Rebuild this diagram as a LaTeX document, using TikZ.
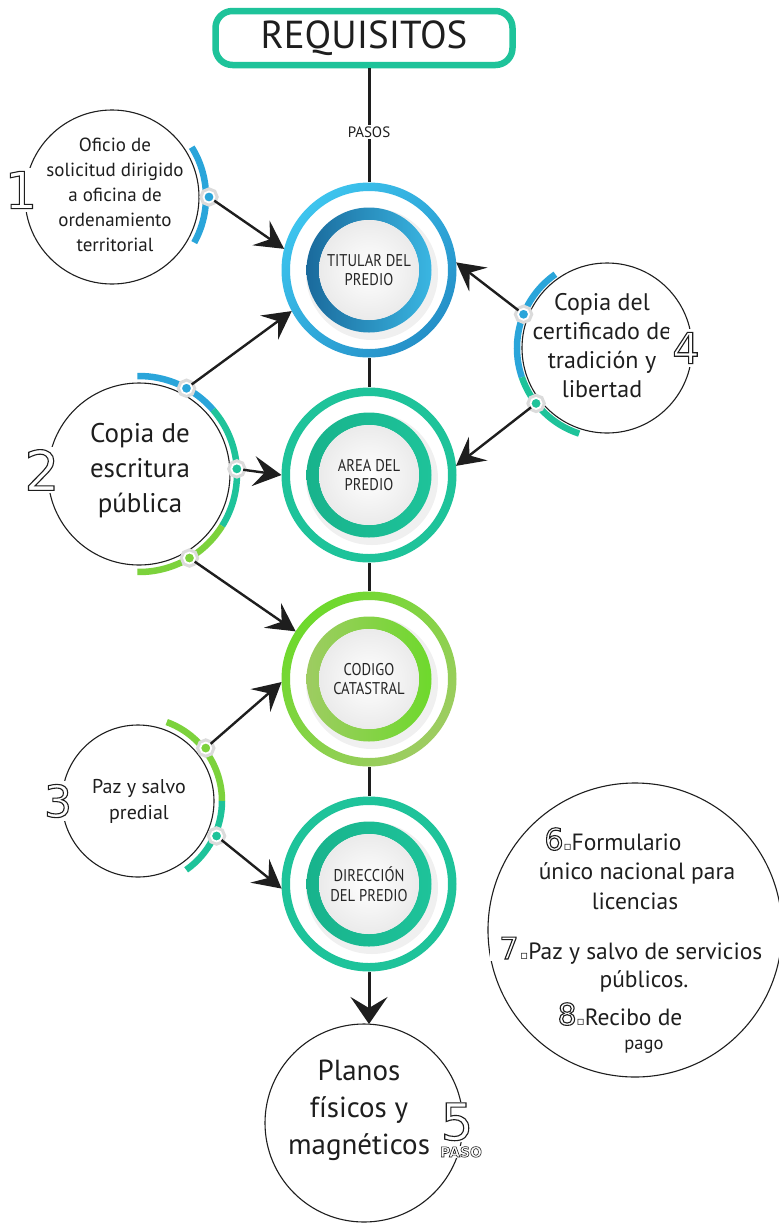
\documentclass[tikz,border=0pt]{standalone}
\usepackage{fontspec}
\setmainfont{PT Sans}
\newfontfamily\condfont[FakeStretch=0.86]{PT Sans}
\newfontfamily\dejavu{DejaVu Sans}
\newfontfamily\dejavub{DejaVu Sans Bold}
\usetikzlibrary{arrows.meta,shadings}
\definecolor{tealc}{HTML}{1EC39A}
\definecolor{tealdk}{HTML}{18B38C}
\definecolor{bluel}{HTML}{3DC4EE}
\definecolor{bluem}{HTML}{2590C8}
\definecolor{bluedk}{HTML}{1A6A9C}
\definecolor{bluebr}{HTML}{3AB6E2}
\definecolor{greenb}{HTML}{6ED92C}
\definecolor{greenl}{HTML}{9ECC62}
\definecolor{arcblue}{HTML}{2AA5DA}
\definecolor{arcteal}{HTML}{1EC39A}
\definecolor{arcgreen}{HTML}{7CD23C}
\definecolor{ink}{HTML}{1E1E1E}
\newcommand{\outnum}[2]{{\fontsize{#1}{#1}\dejavu\color{ink}\special{pdf:literal direct 1 Tr 1.1 w}#2\special{pdf:literal direct 0 Tr}}}
\newcommand{\outbold}[2]{{\fontsize{#1}{#1}\dejavub\color{ink}\special{pdf:literal direct 1 Tr 0.6 w}#2\special{pdf:literal direct 0 Tr}}}
\newcommand{\sqmark}{{\dejavu\fontsize{12}{12}\selectfont ▫}}
\newcommand{\stagedraw}[7]{%
  \fill[white] (#1.center) circle[radius=88pt];
  \shade[even odd rule,left color=#2,right color=#3,shading angle=#6] (#1.center) circle[radius=87.5pt] circle[radius=79pt];
  \fill[black,opacity=0.06] ([shift={(3pt,-4pt)}]#1.center) circle[radius=66pt];
  \shade[even odd rule,left color=#4,right color=#5,shading angle=#7] (#1.center) circle[radius=62.5pt] circle[radius=50pt];
  \shade[inner color=white,outer color=gray!16] (#1.center) circle[radius=50pt];
}
\begin{document}
\begin{tikzpicture}[x=1pt,y=1pt,
  mainc/.style={circle,minimum size=175pt,inner sep=0pt,outer sep=0pt},
  mlabel/.style={align=center,font=\condfont\fontsize{17}{19.5}\selectfont,text=black!85},
  side/.style={circle,draw=ink,line width=1.1pt,inner sep=0pt,outer sep=0pt},
  stext/.style={align=center,text=ink,inner sep=0pt},
  numbox/.style={fill=white,inner sep=3pt},
  conn/.style={draw=ink,line width=2.4pt,-{Stealth[length=28pt,width=30pt,inset=11pt]}},
  dotc/.style={circle,minimum size=11pt,inner sep=0pt,fill=#1,draw=white,line width=1.8pt,preaction={draw=gray!28,line width=8pt}},
  arcs/.style={line width=6.5pt,draw=#1}
]
\path[use as bounding box,fill=white] (0,0) rectangle (779,-1224);

% title
\node[draw=tealc,line width=6.5pt,rounded corners=17pt,minimum width=297pt,minimum height=54pt,inner sep=0pt,
      font=\fontsize{39}{39}\selectfont,text=ink] (req) at (364,-38) {REQUISITOS};

% main stage nodes
\node[mainc] (tit) at (369,-270) {};
\node[mainc] (area) at (369,-475) {};
\node[mainc] (cod) at (369,-679) {};
\node[mainc] (dir) at (369,-884) {};

% side circles
\node[side,minimum size=174pt] (c1) at (112,-197) {};
\node[side,minimum size=182pt] (c2) at (139,-474) {};
\node[side,minimum size=152pt] (c3) at (138,-801) {};
\node[side,minimum size=170pt] (c4) at (607,-348) {};
\node[side,minimum size=294pt] (c6) at (635,-930) {};
\node[side,minimum size=198pt] (plan) at (364,-1123) {};

% spine
\draw[line width=3pt,draw=ink,-{Stealth[length=27pt,width=37pt,inset=11pt]}]
  (tit.north |- req.south) -- (tit.north |- plan.north);

% stages
\stagedraw{tit}{bluel}{bluem}{bluedk}{bluebr}{45}{90}
\stagedraw{area}{tealc}{tealc}{tealdk}{tealc}{45}{90}
\stagedraw{cod}{greenb}{greenl}{greenl}{greenb}{45}{90}
\stagedraw{dir}{tealc}{tealc}{tealdk}{tealc}{45}{90}
\node[mlabel] (titl) at (tit) {TITULAR DEL\\PREDIO};
\node[mlabel] (areal) at (area) {AREA DEL\\PREDIO};
\node[mlabel] (codl) at (cod) {CODIGO\\CATASTRAL};
\node[mlabel] (dirl) at (dir) {DIRECCIÓN\\DEL PREDIO};

\node[fill=white,inner sep=2pt,font=\fontsize{15}{15}\selectfont,text=ink] (pasos) at (369,-132) {PASOS};

% side arcs
\draw[arcs=arcblue] ([shift={(32:94pt)}]c1.center) arc[start angle=32,end angle=-29,radius=94pt];
\draw[arcs=arcblue] ([shift={(91:98pt)}]c2.center) arc[start angle=91,end angle=41,radius=98pt];
\draw[arcs=arcteal] ([shift={(41:98pt)}]c2.center) arc[start angle=41,end angle=-32,radius=98pt];
\draw[arcs=arcgreen] ([shift={(-32:98pt)}]c2.center) arc[start angle=-32,end angle=-91,radius=98pt];
\draw[arcs=arcgreen] ([shift={(70:84pt)}]c3.center) arc[start angle=70,end angle=0,radius=84pt];
\draw[arcs=arcteal] ([shift={(0:84pt)}]c3.center) arc[start angle=0,end angle=-55,radius=84pt];
\draw[arcs=arcblue] ([shift={(125:90pt)}]c4.center) arc[start angle=125,end angle=199,radius=90pt];
\draw[arcs=arcteal] ([shift={(199:90pt)}]c4.center) arc[start angle=199,end angle=252,radius=90pt];

% dots
\node[dotc=arcblue] (d1) at ([shift={(0:97pt)}]c1.center) {};
\node[dotc=arcblue] (d2a) at ([shift={(61:98pt)}]c2.center) {};
\node[dotc=arcteal] (d2b) at ([shift={(3:98pt)}]c2.center) {};
\node[dotc=arcgreen] (d2c) at ([shift={(-59:98pt)}]c2.center) {};
\node[dotc=arcgreen] (d3a) at ([shift={(38:86pt)}]c3.center) {};
\node[dotc=arcteal] (d3b) at ([shift={(-24:86pt)}]c3.center) {};
\node[dotc=arcblue] (d4a) at ([shift={(158:90pt)}]c4.center) {};
\node[dotc=arcteal] (d4b) at ([shift={(218:90pt)}]c4.center) {};

% connectors
\draw[conn] (d1) -- (tit.166);
\draw[conn] (d2a) -- (tit.208);
\draw[conn] (d2b) -- (area.180);
\draw[conn] (d2c) -- (cod.147);
\draw[conn] (d3a) -- (cod.182);
\draw[conn] (d3b) -- (dir.183);
\draw[conn] (d4a) -- (tit.5);
\draw[conn] (d4b) -- (area.6);

% side texts
\node[stext,font=\fontsize{19}{25}\selectfont] (t1) at (115,-195) {Oficio de\\solicitud dirigido\\a oficina de\\ordenamiento\\territorial};
\node[stext,font=\fontsize{27}{35}\selectfont] (t2) at (140,-471) {Copia de\\escritura\\pública};
\node[stext,font=\fontsize{20}{26}\selectfont] (t3) at (139,-801) {Paz y salvo\\predial};
\node[stext,font=\fontsize{24}{29}\selectfont] (t4) at (602,-346) {Copia del\\certificado de\\tradición y\\libertad};
\node[stext,font=\fontsize{29}{37}\selectfont] (t5) at (359,-1110) {Planos\\físicos y\\magnéticos};

% numbers
\node[numbox] (n1) at (21,-190) {\outnum{51}{1}};
\node[numbox] (n2) at (42,-470) {\outnum{55}{2}};
\node[numbox] (n3) at (58,-801) {\outnum{44}{3}};
\node[numbox] (n4) at (686,-348) {\outnum{43}{4}};
\node[fill=white,inner sep=1pt,anchor=base] (n5) at (457,-1140) {\outnum{51}{5}};
\node[fill=white,inner sep=0.5pt,anchor=north] (paso) at ([xshift=4pt,yshift=-4pt]n5.south) {\outbold{14}{PASO}};

% right circle texts
\node[stext,font=\fontsize{23.5}{23.5}\selectfont,anchor=base] (l6) at (613,-850) {\outnum{30}{6}\sqmark Formulario};
\node[stext,font=\fontsize{23.5}{23.5}\selectfont,anchor=base] (l6b) at (637,-879) {único nacional para};
\node[stext,font=\fontsize{23.5}{23.5}\selectfont,anchor=base] (l6c) at (635,-909) {licencias};
\node[fill=white,inner xsep=9pt,inner ysep=2pt,anchor=base] (n7) at (509,-959) {\outnum{30}{7}};
\node[stext,font=\fontsize{23.5}{23.5}\selectfont,anchor=base west] (l7) at (520,-959) {\sqmark Paz y salvo de servicios};
\node[stext,font=\fontsize{23.5}{23.5}\selectfont,anchor=base] (l7b) at (644,-987) {públicos.};
\node[stext,font=\fontsize{23.5}{23.5}\selectfont,anchor=base] (l8) at (620,-1025) {\outnum{30}{8}\sqmark Recibo de};
\node[stext,font=\fontsize{18.5}{18.5}\selectfont,anchor=base] (l8b) at (644,-1049) {pago};
\end{tikzpicture}
\end{document}
